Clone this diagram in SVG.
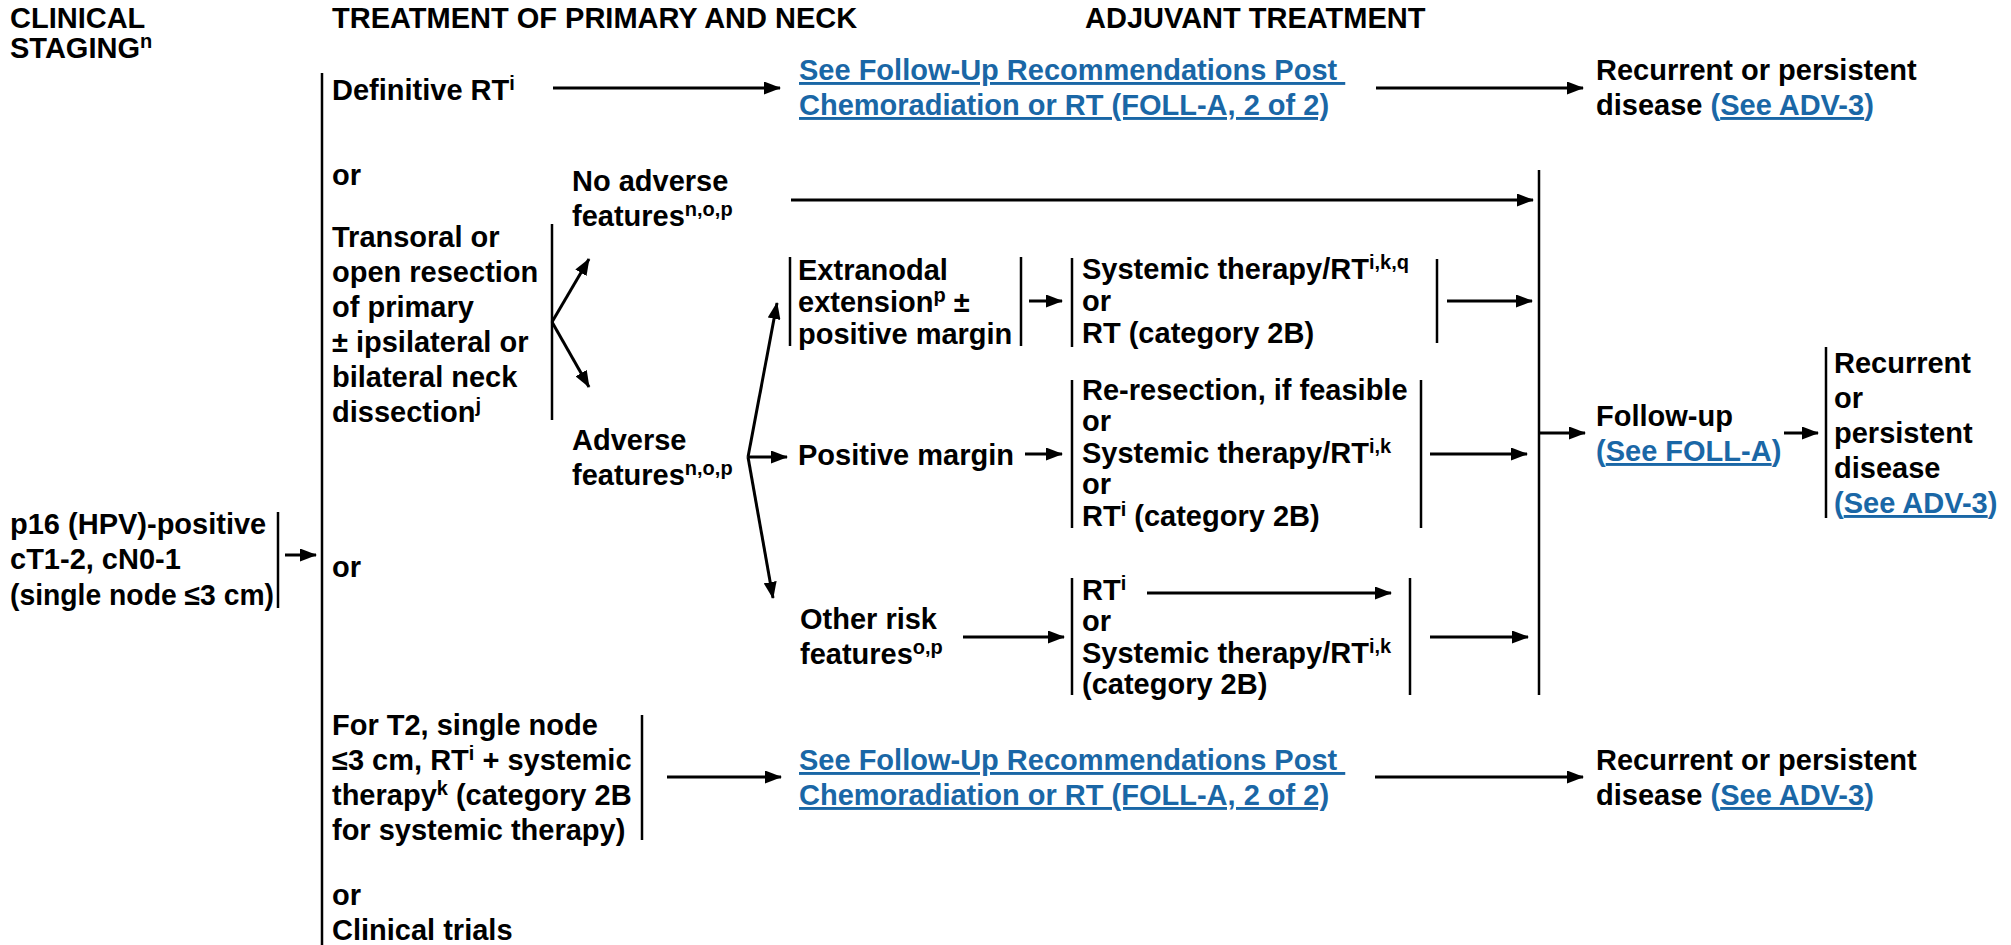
<svg xmlns="http://www.w3.org/2000/svg" width="2011" height="945" viewBox="0 0 2011 945">
<defs>
<marker id="ah" viewBox="0 0 17 13" markerWidth="17" markerHeight="13" refX="16" refY="6.5" orient="auto" markerUnits="userSpaceOnUse">
<path d="M0,0 L17,6.5 L0,13 z" fill="#000"/>
</marker>
<style>
text{font-family:"Liberation Sans",Arial,Helvetica,sans-serif;font-weight:bold;font-size:29px;fill:#000}
.s{font-size:20px}
.lk{fill:#1a67a6}
.u{text-decoration:underline}
.bar{stroke:#000;stroke-width:2.5;fill:none}
.arr{stroke:#000;stroke-width:3;fill:none;marker-end:url(#ah)}
</style>
</defs>
<rect width="2011" height="945" fill="#fff"/>

<!-- column headings -->
<g id="headings">
<text x="10" y="28">CLINICAL</text>
<text x="10" y="58">STAGING<tspan class="s" dy="-10">n</tspan></text>
<text x="332" y="28">TREATMENT OF PRIMARY AND NECK</text>
<text x="1085" y="28">ADJUVANT TREATMENT</text>
</g>

<!-- bracket bars -->
<g id="bars">
<line class="bar" x1="322" y1="73" x2="322" y2="945"/>
<line class="bar" x1="278" y1="512" x2="278" y2="608"/>
<line class="bar" x1="552" y1="224" x2="552" y2="420"/>
<line class="bar" x1="790" y1="257" x2="790" y2="346"/>
<line class="bar" x1="1021" y1="257" x2="1021" y2="346"/>
<line class="bar" x1="1072" y1="258" x2="1072" y2="347"/>
<line class="bar" x1="1437" y1="259" x2="1437" y2="343"/>
<line class="bar" x1="1072" y1="380" x2="1072" y2="528"/>
<line class="bar" x1="1421" y1="380" x2="1421" y2="528"/>
<line class="bar" x1="1072" y1="578" x2="1072" y2="695"/>
<line class="bar" x1="1410" y1="578" x2="1410" y2="695"/>
<line class="bar" x1="1539" y1="170" x2="1539" y2="695"/>
<line class="bar" x1="1826" y1="347" x2="1826" y2="518"/>
<line class="bar" x1="642" y1="715" x2="642" y2="840"/>
</g>

<!-- connectors -->
<g id="connectors">
<line class="arr" x1="553" y1="88" x2="780" y2="88"/>
<line class="arr" x1="1376" y1="88" x2="1583" y2="88"/>
<line class="arr" x1="791" y1="200" x2="1533" y2="200"/>
<line class="arr" x1="552" y1="322" x2="589" y2="259"/>
<line class="arr" x1="552" y1="322" x2="589" y2="387"/>
<line class="arr" x1="748" y1="457" x2="777" y2="303"/>
<line class="arr" x1="748" y1="457" x2="787" y2="457"/>
<line class="arr" x1="748" y1="457" x2="773" y2="598"/>
<line class="arr" x1="1029" y1="301" x2="1062" y2="301"/>
<line class="arr" x1="1447" y1="301" x2="1532" y2="301"/>
<line class="arr" x1="1025" y1="454" x2="1062" y2="454"/>
<line class="arr" x1="1430" y1="454" x2="1527" y2="454"/>
<line class="arr" x1="963" y1="637" x2="1064" y2="637"/>
<line class="arr" x1="1147" y1="593" x2="1391" y2="593"/>
<line class="arr" x1="1430" y1="637" x2="1528" y2="637"/>
<line class="arr" x1="1540" y1="433" x2="1585" y2="433"/>
<line class="arr" x1="1784" y1="433" x2="1818" y2="433"/>
<line class="arr" x1="285" y1="555" x2="316" y2="555"/>
<line class="arr" x1="667" y1="777" x2="781" y2="777"/>
<line class="arr" x1="1375" y1="777" x2="1583" y2="777"/>
</g>

<g id="stage">
<text x="10" y="534" font-size="28">p16 (HPV)-positive</text>
<text x="10" y="569" font-size="28">cT1-2, cN0-1</text>
<text x="10" y="605" font-size="28" textLength="264" lengthAdjust="spacingAndGlyphs">(single node ≤3 cm)</text>
</g>

<g id="definitive-rt">
<text x="332" y="100">Definitive RT<tspan class="s" dy="-10">i</tspan></text>
</g>

<g id="followup-link-top">
<text x="799" y="80" class="lk u">See Follow-Up Recommendations Post&#160;</text>
<text x="799" y="115" class="lk u">Chemoradiation or RT (FOLL-A, 2 of 2)</text>
</g>

<g id="recurrent-top">
<text x="1596" y="80">Recurrent or persistent</text>
<text x="1596" y="115">disease <tspan class="lk">(<tspan class="u">See ADV-3</tspan>)</tspan></text>
</g>

<g id="or-1"><text x="332" y="185">or</text></g>

<g id="resection">
<text x="332" y="247">Transoral or</text>
<text x="332" y="282">open resection</text>
<text x="332" y="317">of primary</text>
<text x="332" y="352">± ipsilateral or</text>
<text x="332" y="387">bilateral neck</text>
<text x="332" y="422">dissection<tspan class="s" dy="-10">j</tspan></text>
</g>

<g id="no-adverse">
<text x="572" y="191">No adverse</text>
<text x="572" y="226">features<tspan class="s" dy="-10">n,o,p</tspan></text>
</g>

<g id="adverse">
<text x="572" y="450">Adverse</text>
<text x="572" y="485">features<tspan class="s" dy="-10">n,o,p</tspan></text>
</g>

<g id="extranodal">
<text x="798" y="280">Extranodal</text>
<text x="798" y="312">extension<tspan class="s" dy="-10">p</tspan><tspan dy="10"> ±</tspan></text>
<text x="798" y="344">positive margin</text>
</g>

<g id="extranodal-tx">
<text x="1082" y="279">Systemic therapy/RT<tspan class="s" dy="-10">i,k,q</tspan></text>
<text x="1082" y="311">or</text>
<text x="1082" y="343">RT (category 2B)</text>
</g>

<g id="positive-margin">
<text x="798" y="465">Positive margin</text>
</g>

<g id="margin-tx">
<text x="1082" y="400">Re-resection, if feasible</text>
<text x="1082" y="431">or</text>
<text x="1082" y="463">Systemic therapy/RT<tspan class="s" dy="-10">i,k</tspan></text>
<text x="1082" y="494">or</text>
<text x="1082" y="526">RT<tspan class="s" dy="-10">i</tspan><tspan dy="10"> (category 2B)</tspan></text>
</g>

<g id="other-risk">
<text x="800" y="629">Other risk</text>
<text x="800" y="664">features<tspan class="s" dy="-10">o,p</tspan></text>
</g>

<g id="other-risk-tx">
<text x="1082" y="600">RT<tspan class="s" dy="-10">i</tspan></text>
<text x="1082" y="631">or</text>
<text x="1082" y="663">Systemic therapy/RT<tspan class="s" dy="-10">i,k</tspan></text>
<text x="1082" y="694">(category 2B)</text>
</g>

<g id="follow-up">
<text x="1596" y="426">Follow-up</text>
<text x="1596" y="461" class="lk">(<tspan class="u">See FOLL-A</tspan>)</text>
</g>

<g id="recurrent-mid">
<text x="1834" y="373">Recurrent</text>
<text x="1834" y="408">or</text>
<text x="1834" y="443">persistent</text>
<text x="1834" y="478">disease</text>
<text x="1834" y="513" class="lk">(<tspan class="u">See ADV-3</tspan>)</text>
</g>

<g id="or-2"><text x="332" y="577">or</text></g>

<g id="rt-systemic">
<text x="332" y="735">For T2, single node</text>
<text x="332" y="770">≤3 cm, RT<tspan class="s" dy="-10">i</tspan><tspan dy="10"> + systemic</tspan></text>
<text x="332" y="805">therapy<tspan class="s" dy="-10">k</tspan><tspan dy="10"> (category 2B</tspan></text>
<text x="332" y="840">for systemic therapy)</text>
</g>

<g id="followup-link-bottom">
<text x="799" y="770" class="lk u">See Follow-Up Recommendations Post&#160;</text>
<text x="799" y="805" class="lk u">Chemoradiation or RT (FOLL-A, 2 of 2)</text>
</g>

<g id="recurrent-bottom">
<text x="1596" y="770">Recurrent or persistent</text>
<text x="1596" y="805">disease <tspan class="lk">(<tspan class="u">See ADV-3</tspan>)</tspan></text>
</g>

<g id="or-3"><text x="332" y="905">or</text></g>
<g id="clinical-trials"><text x="332" y="940">Clinical trials</text></g>
</svg>
